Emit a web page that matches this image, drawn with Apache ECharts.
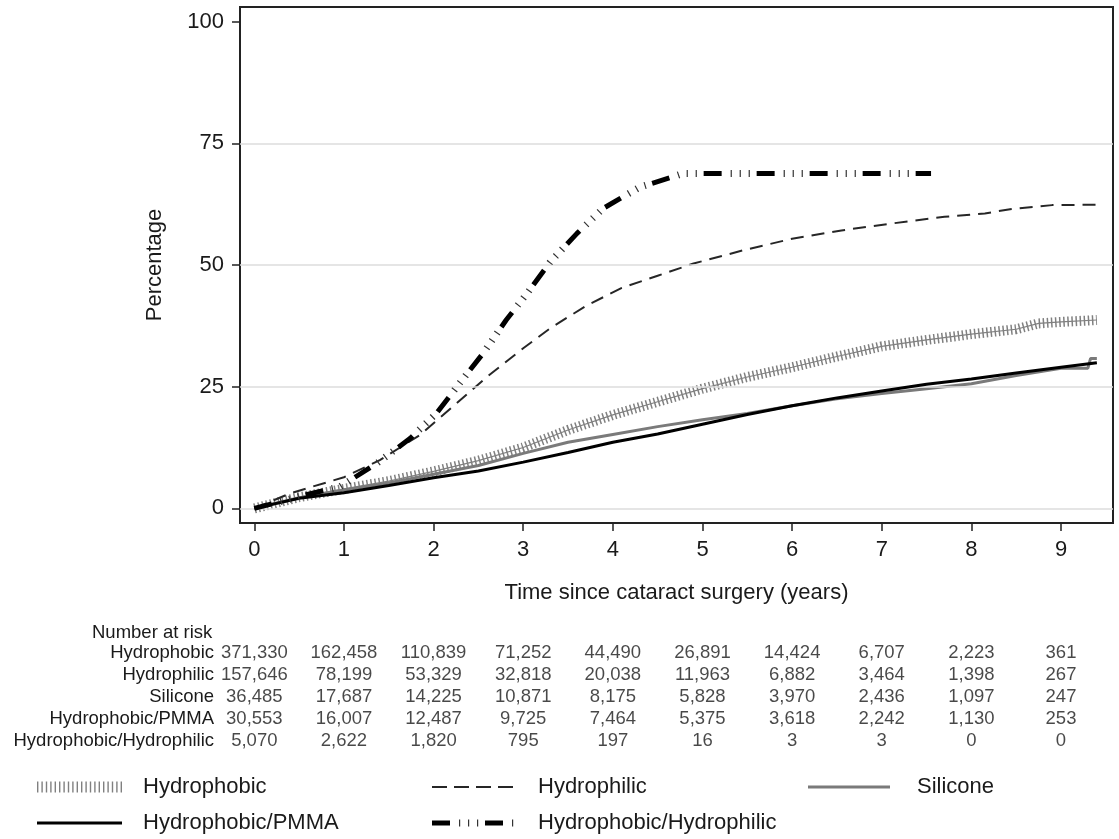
<!DOCTYPE html>
<html>
<head>
<meta charset="utf-8">
<script src="https://cdn.jsdelivr.net/npm/echarts@6/dist/echarts.min.js"></script>
<style>
html,body{margin:0;padding:0;background:#fff;}
#c{width:1119px;height:839px;}
</style>
</head>
<body>
<div id="c"></div>
<script>
// ---------- data ----------
var xTicks = [0,1,2,3,4,5,6,7,8,9];
var yTicks = [0,25,50,75,100];
var gridLines = [0,25,50,75];

var hydrophobicT = [0,0.5,1,1.5,2,2.5,3,3.5,4,4.5,5,5.5,6,6.5,7,7.5,8,8.5,8.75,9,9.4];
var hydrophobicV = [0,2.3,4.0,5.6,7.6,9.8,12.5,16.1,19.2,21.9,24.6,27.0,29.0,31.2,33.3,34.6,35.8,36.8,38.0,38.3,38.7];

var hydrophilicT = [0,0.4,1,1.4,1.85,2.2,2.6,3,3.3,3.7,4.1,4.5,4.9,5.45,6,6.55,7.1,7.7,8.15,8.45,8.9,9.4];
var hydrophilicV = [0,3.1,6.4,9.9,15.1,20.7,27.1,32.9,37.0,41.6,45.3,47.8,50.3,53.0,55.4,57.1,58.5,59.9,60.6,61.5,62.3,62.4];

var siliconeT = [0,0.5,1,1.5,2,2.5,3,3.5,4,4.5,5,5.5,6,6.5,7,7.5,8,8.5,9,9.3,9.33,9.4];
var siliconeV = [0,2.2,3.8,5.2,7.0,8.8,11.3,13.6,15.2,16.8,18.2,19.5,21.1,22.5,23.6,24.6,25.6,27.3,28.8,28.8,30.8,30.8];

var pmmaT = [0,0.5,1,1.5,2,2.5,3,3.5,4,4.5,5,5.5,6,6.5,7,7.5,8,8.5,9,9.4];
var pmmaV = [0,2.1,3.2,4.7,6.3,7.7,9.5,11.5,13.6,15.3,17.3,19.3,21.1,22.7,24.1,25.5,26.6,27.8,29.0,29.9];

var hhT = [0,0.58,0.96,1.37,1.74,2.03,2.29,2.55,2.81,3.04,3.3,3.6,3.89,4.3,4.67,4.78,7.55];
var hhV = [0,2.8,4.5,9.3,14.4,19.5,25.7,31.8,38.7,44.1,50.6,56.5,61.6,66.0,68.1,68.8,68.8];

var riskRows = ['Hydrophobic','Hydrophilic','Silicone','Hydrophobic/PMMA','Hydrophobic/Hydrophilic'];
var riskHydrophobic = ['371,330','162,458','110,839','71,252','44,490','26,891','14,424','6,707','2,223','361'];
var riskHydrophilic = ['157,646','78,199','53,329','32,818','20,038','11,963','6,882','3,464','1,398','267'];
var riskSilicone    = ['36,485','17,687','14,225','10,871','8,175','5,828','3,970','2,436','1,097','247'];
var riskPMMA        = ['30,553','16,007','12,487','9,725','7,464','5,375','3,618','2,242','1,130','253'];
var riskHH          = ['5,070','2,622','1,820','795','197','16','3','3','0','0'];

// ---------- build ----------
function pairs(t, v){ return t.map(function(x,i){ return [x, v[i]]; }); }
var FONT = "'Liberation Sans', Arial, Helvetica, sans-serif";
var TXT = '#1a1a1a';
var TBL = 18.5;

var riskAll = [riskHydrophobic, riskHydrophilic, riskSilicone, riskPMMA, riskHH];
var riskData = [];
riskAll.forEach(function(row, r){
  row.forEach(function(txt, c){ riskData.push([xTicks[c], riskRows[r], txt]); });
});

var chart = echarts.init(document.getElementById('c'), null, {renderer:'canvas'});

function lineSeries(name, data, style, z){
  return {name:name, type:'line', data:data, xAxisIndex:0, yAxisIndex:0, showSymbol:false, symbol:'none',
    lineStyle:style, z:z, silent:true, animation:false};
}

var series = [
  {type:'line', data:[], xAxisIndex:0, yAxisIndex:0, z:1, silent:true, animation:false,
    markLine:{silent:true, symbol:'none', label:{show:false}, animation:false,
      lineStyle:{color:'#dcdcdc', width:1.5, type:'solid'},
      data: gridLines.map(function(v){ return {yAxis:v}; })}},
  lineSeries('Hydrophobic', pairs(hydrophobicT, hydrophobicV), {color:'#808080', width:1.2, type:'solid'}, 2),
  lineSeries('Hydrophobic hatch', pairs(hydrophobicT, hydrophobicV), {color:'#808080', width:10, type:[1.5,2.6], cap:'butt'}, 2),
  lineSeries('Hydrophilic', pairs(hydrophilicT, hydrophilicV), {color:'#262626', width:2, type:[13,8], cap:'butt'}, 3),
  lineSeries('Silicone', pairs(siliconeT, siliconeV), {color:'#7a7a7a', width:3, type:'solid'}, 4),
  lineSeries('Hydrophobic/PMMA', pairs(pmmaT, pmmaV), {color:'#000', width:3, type:'solid'}, 5),
  lineSeries('Hydrophobic/Hydrophilic', pairs(hhT, hhV), {color:'#000', width:5, type:[18,35], cap:'butt'}, 6),
  lineSeries('Hydrophobic/Hydrophilic ticks', pairs(hhT, hhV), {color:'#333', width:7, type:[1.2,7.8,1.2,7.8,1.2,33.8], dashOffset:26, cap:'butt'}, 6),
  {type:'scatter', xAxisIndex:1, yAxisIndex:1, data:riskData, symbolSize:0.1, silent:true, animation:false,
    itemStyle:{color:'rgba(0,0,0,0)'},
    label:{show:true, position:'inside', formatter:function(p){ return p.value[2]; },
      fontSize:TBL, fontFamily:FONT, color:TXT}}
];

// legend drawn as graphic keys
var L1 = 787, L2 = 823;
var graphics = [
  {type:'text', left:92, top:623, style:{text:'Number at risk', fontSize:TBL, fontFamily:FONT, fill:TXT}},
  {type:'line', shape:{x1:37,y1:L1,x2:122,y2:L1}, style:{stroke:'#808080', lineWidth:11, lineDash:[1.4,3.0]}},
  {type:'text', x:143, y:L1, style:{text:'Hydrophobic', fontSize:22, fontFamily:FONT, fill:TXT, verticalAlign:'middle'}},
  {type:'line', shape:{x1:432,y1:L1,x2:515,y2:L1}, style:{stroke:'#262626', lineWidth:2, lineDash:[15,7]}},
  {type:'text', x:538, y:L1, style:{text:'Hydrophilic', fontSize:22, fontFamily:FONT, fill:TXT, verticalAlign:'middle'}},
  {type:'line', shape:{x1:808,y1:L1,x2:890,y2:L1}, style:{stroke:'#7a7a7a', lineWidth:3}},
  {type:'text', x:917, y:L1, style:{text:'Silicone', fontSize:22, fontFamily:FONT, fill:TXT, verticalAlign:'middle'}},
  {type:'line', shape:{x1:37,y1:L2,x2:122,y2:L2}, style:{stroke:'#000', lineWidth:3}},
  {type:'text', x:143, y:L2, style:{text:'Hydrophobic/PMMA', fontSize:22, fontFamily:FONT, fill:TXT, verticalAlign:'middle'}},
  {type:'line', shape:{x1:432,y1:L2,x2:515,y2:L2}, style:{stroke:'#000', lineWidth:5, lineDash:[18,35]}},
  {type:'line', shape:{x1:432,y1:L2,x2:515,y2:L2}, style:{stroke:'#333', lineWidth:7, lineDash:[1.2,7.8,1.2,7.8,1.2,33.8], lineDashOffset:26}},
  {type:'text', x:538, y:L2, style:{text:'Hydrophobic/Hydrophilic', fontSize:22, fontFamily:FONT, fill:TXT, verticalAlign:'middle'}}
];

var option = {
  backgroundColor:'#fff',
  animation:false,
  textStyle:{fontFamily:FONT},
  grid:[
    {left:240, right:6, top:7, bottom:316, show:true, borderColor:'#222', borderWidth:2, backgroundColor:'#fff', containLabel:false},
    {left:240, right:6, top:642, height:110, show:false, containLabel:false}
  ],
  xAxis:[
    {type:'value', gridIndex:0, min:-0.16, max:9.58,
      name:'Time since cataract surgery (years)', nameLocation:'middle', nameGap:59,
      nameTextStyle:{fontSize:22, color:TXT, fontFamily:FONT},
      axisLine:{show:true, onZero:false, lineStyle:{color:'#222', width:2}},
      axisTick:{show:true, length:8, customValues:xTicks, lineStyle:{color:'#222', width:1.5}},
      axisLabel:{show:true, customValues:xTicks, fontSize:22, color:TXT, margin:16, fontFamily:FONT},
      splitLine:{show:false}},
    {type:'value', gridIndex:1, min:-0.16, max:9.58, show:false}
  ],
  yAxis:[
    {type:'value', gridIndex:0, min:-3, max:103,
      name:'Percentage', nameLocation:'middle', nameGap:74, nameRotate:90,
      nameTextStyle:{fontSize:22, color:TXT, fontFamily:FONT},
      axisLine:{show:true, onZero:false, lineStyle:{color:'#222', width:2}},
      axisTick:{show:true, length:8, customValues:yTicks, lineStyle:{color:'#222', width:1.5}},
      axisLabel:{show:true, customValues:yTicks, fontSize:22, color:TXT, margin:16, fontFamily:FONT},
      splitLine:{show:false}},
    {type:'category', gridIndex:1, data:riskRows, inverse:true,
      axisLine:{show:false}, axisTick:{show:false}, splitLine:{show:false},
      axisLabel:{show:true, interval:0, fontSize:TBL, color:TXT, margin:26, fontFamily:FONT, align:'right', hideOverlap:false}}
  ],
  series:series,
  graphic:graphics
};
chart.setOption(option);
</script>
</body>
</html>
